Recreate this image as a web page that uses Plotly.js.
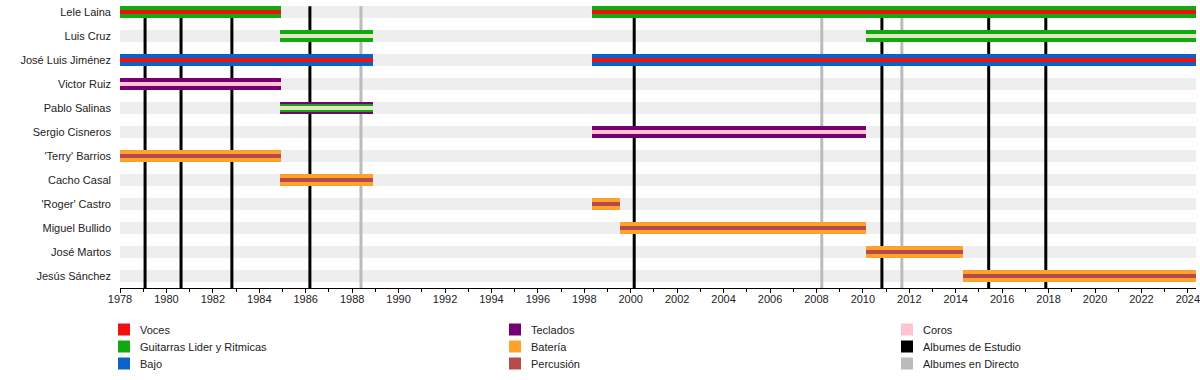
<!DOCTYPE html>
<html>
<head>
<meta charset="utf-8">
<script src="https://cdn.plot.ly/plotly-3.0.1.min.js"></script>
<style>html,body{margin:0;padding:0;background:#fff;}#chart{width:1200px;height:380px;}</style>
</head>
<body>
<div id="chart"></div>
<script>
// ---- data ----
const members = ["Lele Laina","Luis Cruz","José Luis Jiménez","Victor Ruiz","Pablo Salinas","Sergio Cisneros","'Terry' Barrios","Cacho Casal","'Roger' Castro","Miguel Bullido","José Martos","Jesús Sánchez"];
const startYear = 1978;
const endYear = 2024.35;

// stints: member, start, end, outer role, inner role, centre role
const stintMember = ["Lele Laina","Lele Laina","Luis Cruz","Luis Cruz","José Luis Jiménez","José Luis Jiménez","Victor Ruiz","Pablo Salinas","Sergio Cisneros","'Terry' Barrios","Cacho Casal","'Roger' Castro","Miguel Bullido","José Martos","Jesús Sánchez"];
const stintStart  = [1978, 1998.33, 1984.9, 2010.13, 1978, 1998.33, 1978, 1984.9, 1998.33, 1978, 1984.9, 1998.33, 1999.53, 2010.13, 2014.31];
const stintEnd    = [1984.93, endYear, 1988.9, endYear, 1988.9, endYear, 1984.93, 1988.9, 2010.13, 1984.93, 1988.9, 1999.53, 2010.13, 2014.31, endYear];
const stintOuter  = ["Guitarras","Guitarras","Guitarras","Guitarras","Bajo","Bajo","Teclados","Teclados","Teclados","Batería","Batería","Batería","Batería","Batería","Batería"];
const stintInner  = ["Voces","Voces","Rítmica","Rítmica","Voces","Voces","Coros","Guitarras","Coros","Percusión","Percusión","Percusión","Percusión","Percusión","Percusión"];
const stintCentre = [null,null,null,null,null,null,null,"Rítmica",null,null,null,null,null,null,null];

const studioAlbums = [1979.08, 1980.63, 1982.82, 1986.18, 2000.15, 2010.82, 2015.42, 2017.88];
const liveAlbums   = [1988.38, 2008.23, 2011.68];

const legendLabels = ["Voces","Guitarras Lider y Ritmicas","Bajo","Teclados","Batería","Percusión","Coros","Albumes de Estudio","Albumes en Directo"];
const legendColorKey = ["Voces","Guitarras","Bajo","Teclados","Batería","Percusión","Coros","Albumes de Estudio","Albumes en Directo"];
const tickYears = [1978,1980,1982,1984,1986,1988,1990,1992,1994,1996,1998,2000,2002,2004,2006,2008,2010,2012,2014,2016,2018,2020,2022,2024];

// ---- styles ----
const colors = {
  "Voces":"#f01010","Guitarras":"#10aa10","Bajo":"#0a64c8","Teclados":"#740074",
  "Batería":"#ffa22c","Percusión":"#b84a4a","Coros":"#ffc4d0","Rítmica":"#e4e8c0",
  "Albumes de Estudio":"#000000","Albumes en Directo":"#bbbbbb"
};

const traces = [];
function layer(roles, width){
  const byRole = {};
  roles.forEach((r,i)=>{ if(r){ (byRole[r] = byRole[r]||[]).push(i); } });
  Object.keys(byRole).forEach(role=>{
    const ii = byRole[role];
    traces.push({
      type:"bar", orientation:"h",
      y: ii.map(i=>stintMember[i]),
      base: ii.map(i=>stintStart[i]),
      x: ii.map(i=>stintEnd[i]-stintStart[i]),
      width: width,
      marker:{color:colors[role], line:{width:0}},
      hoverinfo:"skip", showlegend:false
    });
  });
}
layer(stintOuter, 0.5);
layer(stintInner.map((r,i)=>stintCentre[i]?null:r), 0.2);
layer(stintInner.map((r,i)=>stintCentre[i]?r:null), 0.33);
layer(stintCentre, 0.15);

const shapes = [];
members.forEach((m,i)=>{
  shapes.push({type:"rect", xref:"paper", yref:"y", x0:0, x1:1, y0:i-0.25, y1:i+0.25,
    fillcolor:"#eeeeee", line:{width:0}, layer:"below"});
});
studioAlbums.forEach(v=>shapes.push({type:"line", xref:"x", yref:"y", x0:v, x1:v, y0:-0.24, y1:members.length-0.5,
  line:{color:colors["Albumes de Estudio"], width:3}, layer:"below"}));
liveAlbums.forEach(v=>shapes.push({type:"line", xref:"x", yref:"y", x0:v, x1:v, y0:-0.24, y1:members.length-0.5,
  line:{color:colors["Albumes en Directo"], width:3}, layer:"below"}));

// legend (3 columns x 3 rows)
const W = 1200, H = 380, mL = 120, mR = 4, mT = 0, mB = 92;
const pw = W-mL-mR, ph = H-mT-mB;
const px2x = p => (p-mL)/pw;
const py2y = p => (ph - (p-mT))/ph;
const colX = [118, 509, 901];
const rowY = [329.5, 346.5, 363.5];
const annotations = [];
legendLabels.forEach((lab,k)=>{
  const c = Math.floor(k/3), r = k%3;
  shapes.push({type:"rect", xref:"paper", yref:"paper",
    x0:px2x(colX[c]), x1:px2x(colX[c]+12), y0:py2y(rowY[r]-6), y1:py2y(rowY[r]+6),
    fillcolor:colors[legendColorKey[k]], line:{width:0}});
  annotations.push({xref:"paper", yref:"paper", x:px2x(colX[c]+20), y:py2y(rowY[r]),
    xanchor:"left", yanchor:"middle", text:lab, showarrow:false,
    font:{size:11, color:"#222"}});
});

const layout = {
  width:W, height:H,
  margin:{l:mL, r:mR, t:mT, b:mB, pad:0},
  paper_bgcolor:"#fff", plot_bgcolor:"#fff",
  font:{family:"'Liberation Sans', Arial, sans-serif", size:11, color:"#222"},
  barmode:"overlay", bargap:0,
  showlegend:false,
  xaxis:{range:[startYear, endYear], tickmode:"array", tickvals:tickYears, ticktext:tickYears.map(String),
    ticks:"outside", ticklen:4, tickwidth:1, tickcolor:"#000", ticklabeloverflow:"allow",
    ticklabelstandoff:-3,
    minor:{dtick:1, tick0:1978, ticks:"outside", ticklen:3, tickcolor:"#000", showgrid:false},
    showline:true, linecolor:"#000", linewidth:1, showgrid:false, zeroline:false,
    tickfont:{size:11, color:"#222"}, fixedrange:true},
  yaxis:{type:"category", categoryorder:"array", categoryarray:members,
    range:[members.length-0.5, -0.5], showgrid:false, zeroline:false, showline:false,
    ticks:"", ticklabelstandoff:8, tickfont:{size:11, color:"#222"}, fixedrange:true},
  shapes:shapes, annotations:annotations
};
Plotly.newPlot("chart", traces, layout, {displayModeBar:false, staticPlot:true});
</script>
</body>
</html>
